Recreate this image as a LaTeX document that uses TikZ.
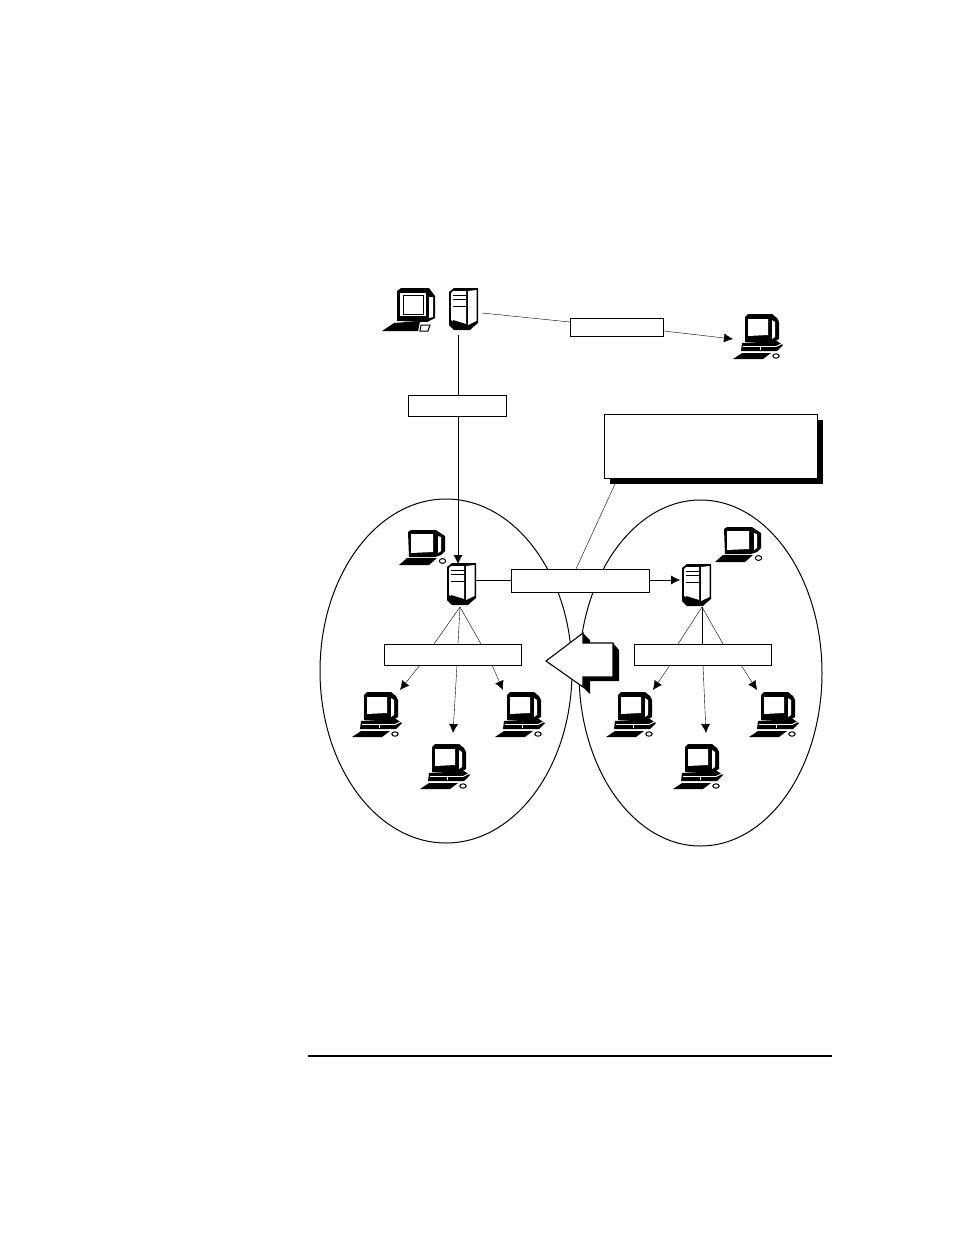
\documentclass[tikz,border=0pt]{standalone}
\usetikzlibrary{arrows.meta}
\usetikzlibrary{shapes.geometric}
\tikzset{
  x=1pt,y=-1pt,
  line width=1pt,
  lbl/.style={draw=black,fill=white,inner sep=0pt,minimum width=#1,minimum height=21pt,line width=1pt},
  zone/.style={draw=black,ellipse,inner sep=0pt,line width=1pt},
  arr/.style={-{Latex[length=9pt,width=9pt]}},
  pcbody/.pic={
    \fill[black] (12,5) -- (15,2) -- (39,2) -- (44,6) -- (46,10) -- (46,27) -- (41,30) -- (12,30) -- cycle;
    \fill[white] (15,7) -- (35,7) -- (35,23) -- (15,24) -- cycle;
    \fill[white] (39,8) -- (42,10) -- (42,25) -- (39,27) -- cycle;
    \fill[black] (9,31) -- (44,29) -- (50,33) -- (44,39) -- (8,39) -- cycle;
    \draw[white,line width=.9pt] (10,34.5) -- (43,34.5) -- (49,31.5);
    \draw[white,line width=.7pt] (27,34) -- (27,38);
    \fill[black] (0,47) -- (9,41) -- (38,41) -- (30,47) -- cycle;
    \draw[black,fill=white,line width=1pt] (43,44) ellipse (3.2 and 2.2);
  },
  termbody/.pic={
    \fill[black] (9,5) -- (12,3) -- (37,3) -- (46,9) -- (46,24) -- (42,28) -- (36,30) -- (10,30) -- cycle;
    \fill[white] (12,7) -- (34,7) -- (34,25) -- (12,26) -- cycle;
    \fill[white] (39,9) -- (42,10) -- (42,24) -- (39,26) -- cycle;
    \fill[black] (0,38) -- (8,31) -- (38,31) -- (30,38) -- cycle;
    \draw[black,fill=white,line width=1pt] (43.5,34) ellipse (3.2 and 2.4);
  },
  towerbody/.pic={
    \fill[black] (0,4) -- (5,0) -- (29,0) -- (29,35) -- (23,40) -- (21,42) -- (5,42) -- (0,37) -- cycle;
    \fill[white] (2,5) -- (4,3) -- (17,3) -- (17,37) -- (4,33) -- (2,32) -- cycle;
    \fill[white] (19,3) -- (27.5,2) -- (27.5,33) -- (19,37) -- cycle;
    \fill[black] (4,6.5) rectangle (17,7.5);
    \fill[black] (4,10.5) rectangle (17,11.5);
    \fill[black] (4,17.5) rectangle (17,18.5);
    \fill[black] (4,32) -- (17,36) -- (17,38) -- (4,35) -- cycle;
  },
  bigmon/.pic={
    \fill[black] (15,3) -- (19,0) -- (47,0) -- (53,8) -- (53,30) -- (45,34) -- (15,33) -- cycle;
    \fill[white] (18,5) -- (44,5) -- (44,28) -- (18,28) -- cycle;
    \draw[black,line width=.7pt] (21,7) rectangle (41,26);
    \fill[white] (47,9) -- (51,9) -- (51,29) -- (47,30) -- cycle;
    \fill[black] (0,43) -- (12,35) -- (38,33) -- (36,43) -- cycle;
    \draw[black,fill=white,line width=1pt] (39,37) -- (48,37) -- (46,43) -- (38,43) -- cycle;
  }
}
\begin{document}
\begin{tikzpicture}
\useasboundingbox (0,0) rectangle (954,1235);
% zones
\node[zone,minimum width=252pt,minimum height=344pt] (zl) at (446,671) {};
\node[zone,minimum width=243pt,minimum height=346pt] (zr) at (700.5,673) {};
% devices
\pic at (382,288) {bigmon};
\pic at (449,288) {towerbody};
\pic at (733,312) {pcbody};
\pic at (399,527) {termbody};
\pic at (447,563) {towerbody};
\pic at (715,524) {termbody};
\pic at (682,564) {towerbody};
\pic at (352,690) {pcbody};
\pic at (420,742) {pcbody};
\pic at (495,690) {pcbody};
\pic at (606,690) {pcbody};
\pic at (673,742) {pcbody};
\pic at (749,690) {pcbody};
% anchors
\coordinate (topS) at (458,335);
\coordinate (topE) at (482,313);
\coordinate (remote) at (733,339);
\coordinate (midN) at (458,564);
\coordinate (midE) at (476,580);
\coordinate (rtW) at (680,580);
\coordinate (midS) at (460,607);
\coordinate (rtS) at (702,607);
\coordinate (l1) at (400,690);
\coordinate (l2) at (453,733);
\coordinate (l3) at (503,690);
\coordinate (r1) at (653,690);
\coordinate (r2) at (706,733);
\coordinate (r3) at (757,690);
\coordinate (cs) at (615,484);
\coordinate (cb) at (576,569);
\coordinate (tl) at (570,322);
\coordinate (tr) at (664,331);
\coordinate (bt) at (458,395);
\coordinate (bb) at (458,416);
\coordinate (ml) at (511,580);
\coordinate (mr) at (650,580);
\coordinate (la) at (434,644); \coordinate (lb) at (458,644); \coordinate (lc) at (481,644);
\coordinate (ra) at (678,644); \coordinate (rb) at (702,644); \coordinate (rc) at (723,644);
\coordinate (lx) at (420,665); \coordinate (ly) at (457,665); \coordinate (lz) at (492,665);
\coordinate (rx) at (670,665); \coordinate (ry) at (703,665); \coordinate (rz) at (741,665);
% lines
\draw (topS) -- (bt);
\draw[arr] (bb) -- (midN);
\draw (topE) -- (tl);
\draw[arr] (tr) -- (remote);
\draw (cs) -- (cb);
\draw (midE) -- (ml);
\draw[arr] (mr) -- (rtW);
\draw (midS) -- (la); \draw (midS) -- (lb); \draw (midS) -- (lc);
\draw (rtS) -- (ra); \draw (rtS) -- (rb); \draw (rtS) -- (rc);
\draw[arr] (lx) -- (l1); \draw[arr] (ly) -- (l2); \draw[arr] (lz) -- (l3);
\draw[arr] (rx) -- (r1); \draw[arr] (ry) -- (r2); \draw[arr] (rz) -- (r3);
% label boxes
\node[lbl=93pt,minimum height=18pt] (b1) at (617,327) {};
\node[lbl=98pt] (b2) at (457.5,405.5) {};
\fill[black] (610,420) rectangle (823,484);
\node[lbl=213pt,minimum height=64pt] (b3) at (711,446) {};
\node[lbl=138pt,minimum height=23pt] (b4) at (580.5,580.5) {};
\node[lbl=137pt] (b5) at (453,654.5) {};
\node[lbl=137pt] (b6) at (703,654.5) {};
% block arrow
\fill[black] (583,633) -- (590,640) -- (590,643) -- (613,643) -- (619,650) -- (619,681) -- (590,681) -- (590,694) -- (583,687) -- cycle;
\draw[fill=white,line join=miter,line width=1.1pt] (546,661) -- (583,633) -- (583,643) -- (613,643) -- (613,677) -- (583,677) -- (583,687) -- cycle;
% rule
\coordinate (ruleL) at (308,1056);
\coordinate (ruleR) at (832,1056);
\draw[line width=1.8pt] (ruleL) -- (ruleR);
\end{tikzpicture}
\end{document}
